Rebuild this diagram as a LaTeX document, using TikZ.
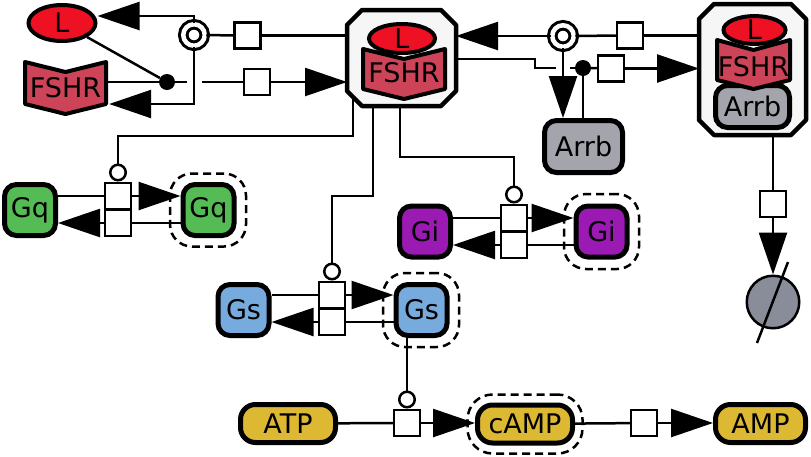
\documentclass[tikz,border=0pt]{standalone}
\usepackage{fontspec}
\setmainfont{DejaVu Sans}
\usepackage{tikz}
\usetikzlibrary{
	arrows.meta,
	calc,
	shapes.geometric
}
\definecolor{LigandRed}{RGB}{238, 17, 36}
\definecolor{ReceptorRed}{RGB}{205, 68, 88}
\definecolor{ComplexGray}{RGB}{246, 246, 246}
\definecolor{ArrbGray}{RGB}{164, 164, 172}
\definecolor{GqGreen}{RGB}{85, 187, 85}
\definecolor{GiPurple}{RGB}{155, 26, 180}
\definecolor{GsBlue}{RGB}{119, 170, 221}
\definecolor{NucYellow}{RGB}{221, 184, 51}
\definecolor{SinkGray}{RGB}{137, 140, 153}
% cut-corner outline of a complex node
\newcommand{\cplxoutline}[1]{%
	\draw[cplx] ($(#1.north west)+(15,0)$) -- ($(#1.north east)+(-15,0)$)
	-- ($(#1.north east)+(0,15)$) -- ($(#1.south east)+(0,-15)$)
	-- ($(#1.south east)+(-15,0)$) -- ($(#1.south west)+(15,0)$)
	-- ($(#1.south west)+(0,-15)$) -- ($(#1.north west)+(0,15)$) -- cycle;}

\begin{document}
\begin{tikzpicture}[x=1pt, y=-1pt,
		every node/.style={font=\fontsize{27}{30}\selectfont, inner sep=0pt},
		link/.style={line width=2.5pt},
		prod/.style={link, -{Triangle[length=42pt, width=28pt]}},
		glyph/.style={draw, line width=5pt, rounded corners=12pt},
		nucl/.style={glyph, fill=NucYellow, rounded corners=15pt, minimum height=38pt},
		ligand/.style={draw, ellipse, line width=4pt, fill=LigandRed},
		recep/.style={draw, line width=4pt, line join=round, fill=ReceptorRed},
		receptext/.style={minimum height=42pt},
		cplxbox/.style={outer sep=0pt},
		cplx/.style={draw, line width=4.5pt, line join=round, fill=ComplexGray},
		proc/.style={draw, rectangle, line width=2.5pt, fill=white, minimum size=26pt},
		cat/.style={draw, circle, line width=2.5pt, fill=white, minimum size=15.5pt},
		assoc/.style={circle, fill=black, minimum size=16pt},
		dissoc/.style={draw, circle, line width=3pt, double=white, double distance=4.5pt,
			fill=white, minimum size=21.5pt},
		active/.style={draw, line width=2.5pt, dash pattern=on 8pt off 5pt, rounded corners=22pt},
		sink/.style={draw, circle, line width=2.5pt, fill=SinkGray, minimum size=52.5pt}
	]
	\useasboundingbox (0,0) rectangle (811,456);

	% complexes
	\node[cplxbox, minimum width=109pt, minimum height=96pt] (cplxA) at (401.5,58) {};
	\node[cplxbox, minimum width=107pt, minimum height=131pt] (cplxB) at (752.5,69.5) {};
	\cplxoutline{cplxA}
	\cplxoutline{cplxB}

	% inside the complexes
	\draw[recep] (363,49) -- (404,59) -- (445,49) -- (445,89) -- (404,99) -- (363,89) -- cycle;
	\node[receptext, minimum width=82pt] (fshrB) at (404,73) {FSHR};
	\node[ligand, minimum width=66pt, minimum height=29pt] (lB) at (402,38.5) {L};
	\node[glyph, fill=ArrbGray, minimum width=74pt, minimum height=42pt] (arrbB) at (752.5,106.5) {Arrb};
	\draw[recep] (717,40) -- (753.5,50) -- (790,40) -- (790,80) -- (753.5,89) -- (717,80) -- cycle;
	\node[receptext, minimum width=73pt] (fshrC) at (753.5,67) {FSHR};
	\node[ligand, minimum width=62pt, minimum height=27pt] (lC) at (754.5,30) {L};

	% free species
	\draw[recep] (25,62) -- (65.5,72) -- (106,62) -- (106,104) -- (65.5,114) -- (25,104) -- cycle;
	\node[receptext, minimum width=81pt] (fshrA) at (65.5,88) {FSHR};
	\node[ligand, minimum width=67pt, minimum height=36pt] (lA) at (62,23) {L};
	\node[glyph, fill=ArrbGray, minimum width=78pt, minimum height=52pt] (arrbA) at (583.5,146.5) {Arrb};

	\node[active, minimum width=76pt, minimum height=73pt] (gqD) at (208,210) {};
	\node[glyph, fill=GqGreen, minimum size=51pt] (gqA) at (30,210) {Gq};
	\node[glyph, fill=GqGreen, minimum size=51pt] (gqB) at (208.5,210) {Gq};
	\node[active, minimum width=75pt, minimum height=75pt] (giD) at (601.5,231.5) {};
	\node[glyph, fill=GiPurple, minimum size=51pt] (giA) at (425,231.5) {Gi};
	\node[glyph, fill=GiPurple, minimum size=51pt] (giB) at (601.5,231.5) {Gi};
	\node[active, minimum width=76pt, minimum height=74pt] (gsD) at (421,310) {};
	\node[glyph, fill=GsBlue, minimum size=51pt] (gsA) at (243.5,310) {Gs};
	\node[glyph, fill=GsBlue, minimum size=51pt] (gsB) at (421.5,310) {Gs};

	\node[active, minimum width=115pt, minimum height=59pt, rounded corners=25pt] (campD) at (525,424) {};
	\node[nucl, minimum width=95pt] (atp) at (288,423.5) {ATP};
	\node[nucl, minimum width=95pt] (camp) at (525,424) {cAMP};
	\node[nucl, minimum width=90pt] (amp) at (760.5,423.5) {AMP};
	\node[sink] (snk) at (773,302) {};

	% process nodes
	\node[dissoc] (dsA) at (194,35) {};
	\node[dissoc] (dsB) at (563,36) {};
	\node[assoc] (dotA) at (167,82) {};
	\node[assoc] (dotB) at (583,68) {};
	\node[proc] (pB) at (247.5,35.5) {};
	\node[proc] (pA) at (257,82) {};
	\node[proc] (pC) at (630,35.5) {};
	\node[proc] (pD) at (611,68.5) {};
	\node[proc] (pE) at (773,204) {};
	\node[proc] (pQ1) at (118,196) {};
	\node[proc] (pQ2) at (118,223) {};
	\node[cat] (catQ) at (118,172.5) {};
	\node[proc] (pS1) at (332,295) {};
	\node[proc] (pS2) at (332,322) {};
	\node[cat] (catS) at (332,271.5) {};
	\node[proc] (pI1) at (514,218) {};
	\node[proc] (pI2) at (514,245) {};
	\node[cat] (catI) at (514,194.5) {};
	\node[proc] (pF) at (407,423) {};
	\node[cat] (catC) at (407,399.5) {};
	\node[proc] (pG) at (644,423) {};
	\coordinate (gapA1) at (187,82);
	\coordinate (gapA2) at (202,82);
	\coordinate (gapB1) at (556,68);
	\coordinate (gapB2) at (570,68);

	% top left: dissociation and association
	\draw[link] (cplxA.west |- pB) -- (pB);
	\draw[link] (pB) -- (dsA);
	\draw[prod] (dsA.north) |- ($(lA.east)+(0,-7)$);
	\draw[prod] (dsA.south) |- ($(fshrA.east)+(3,16)$);
	\draw[link] (lA) -- (dotA);
	\draw[link] (fshrA.east |- dotA) -- (dotA);
	\draw[link] (dotA) -- (gapA1);
	\draw[link] (gapA2) -- (pA);
	\draw[prod] (pA.east) -- (pA.east -| cplxA.west);

	% top right: arrestin
	\draw[link] (cplxB.west |- pC) -- (pC);
	\draw[link] (pC) -- (dsB);
	\draw[prod] (dsB.west) -- (dsB.west -| cplxA.east);
	\draw[prod] (dsB.south) -- (dsB.south |- arrbA.north);
	\draw[link] ($(cplxA.east)+(0,1)$) -- ++(79,0) |- (gapB1);
	\draw[link] (gapB2) -- (dotB);
	\draw[link] (dotB) -- (dotB |- arrbA.north);
	\draw[link] (dotB) -- (pD);
	\draw[prod] (pD.east) -- (pD.east -| cplxB.west);
	\draw[link] ($(cplxB.south)+(20.5,0)$) -- (pE);
	\draw[prod] (pE) -- (snk);
	\draw[link] ($(snk)+(-16,41)$) -- ($(snk)+(15,-40)$);

	% G proteins
	\draw[link] ($(cplxA.south)+(-48.5,-7)$) -- ++(0,37) -| (catQ.north);
	\draw[link] ($(cplxA.south)+(-28.5,0)$) -- ++(0,90) -| (catS.north);
	\draw[link] ($(cplxA.south)+(-1.5,0)$) -- ++(0,51) -| (catI.north);

	\draw[link] (gqA.east |- pQ1) -- (pQ1);
	\draw[prod] (pQ1.east) -- (pQ1.east -| gqB.west);
	\draw[link] (gqB.west |- pQ2) -- (pQ2);
	\draw[prod] (pQ2.west) -- (pQ2.west -| gqA.east);

	\draw[link] (giA.east |- pI1) -- (pI1);
	\draw[prod] (pI1.east) -- (pI1.east -| giB.west);
	\draw[link] (giB.west |- pI2) -- (pI2);
	\draw[prod] (pI2.west) -- (pI2.west -| giA.east);

	\draw[link] (gsA.east |- pS1) -- (pS1);
	\draw[prod] (pS1.east) -- (pS1.east -| gsB.west);
	\draw[link] (gsB.west |- pS2) -- (pS2);
	\draw[prod] (pS2.west) -- (pS2.west -| gsA.east);

	% cAMP
	\draw[link] (gsB.south -| catC) -- (catC.north);
	\draw[link] (atp) -- (pF);
	\draw[prod] (pF.east) -- (pF.east -| camp.west);
	\draw[link] (camp) -- (pG);
	\draw[prod] (pG.east) -- (pG.east -| amp.west);
\end{tikzpicture}
\end{document}
